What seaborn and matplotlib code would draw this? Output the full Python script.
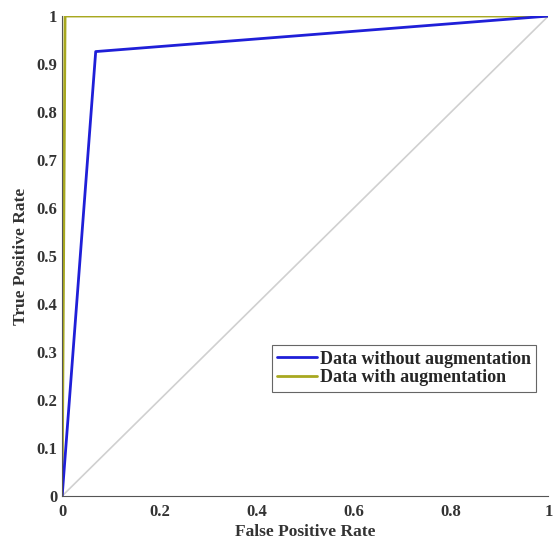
import numpy as np
import pandas as pd
import matplotlib
matplotlib.use("Agg")
import matplotlib.pyplot as plt
import seaborn as sns
from matplotlib.lines import Line2D

# ROC points
fpr_no_aug = [0.0, 0.069, 1.0]
tpr_no_aug = [0.0, 0.926, 1.0]
fpr_aug = [0.0, 0.006, 1.0]
tpr_aug = [0.0, 1.0, 1.0]
chance = [0.0, 1.0]
ticks_x = [0, 0.2, 0.4, 0.6, 0.8, 1]
ticks_y = [0, 0.1, 0.2, 0.3, 0.4, 0.5, 0.6, 0.7, 0.8, 0.9, 1]
xtick_labels = ['0', '0.2', '0.4', '0.6', '0.8', '1']
ytick_labels = ['0', '0.1', '0.2', '0.3', '0.4', '0.5', '0.6', '0.7', '0.8', '0.9', '1']
series_names = ['Data without augmentation', 'Data with augmentation']

BLUE = '#1f1fd8'
OLIVE = '#a8a820'

sns.set_style("white")
plt.rcParams['font.family'] = ['Liberation Serif', 'DejaVu Serif']
plt.rcParams['font.weight'] = 'bold'

fig = plt.figure(figsize=(5.55, 5.46), dpi=100)
ax = fig.add_axes([0.112, 0.0916, 0.876, 0.879])

sns.lineplot(x=chance, y=chance, ax=ax, color='#d0d0d0', linewidth=1.2,
             estimator=None, sort=False)
sns.lineplot(x=fpr_aug, y=tpr_aug, ax=ax, color=OLIVE, linewidth=2,
             estimator=None, sort=False)
sns.lineplot(x=fpr_no_aug, y=tpr_no_aug, ax=ax, color=BLUE, linewidth=2,
             estimator=None, sort=False)

ax.set_xlim(0, 1)
ax.set_ylim(0, 1)
ax.set_xticks(ticks_x)
ax.set_xticklabels(xtick_labels)
ax.set_yticks(ticks_y)
ax.set_yticklabels(ytick_labels)
ax.tick_params(direction='in', length=4, labelsize=12, colors='#333333', width=0.8)
ax.tick_params(axis='x', pad=6)
for t in ax.get_xticklabels() + ax.get_yticklabels():
    t.set_fontweight('bold')
ax.set_xlabel('False Positive Rate', fontsize=12.5, fontweight='bold', color='#333333', labelpad=3)
ax.set_ylabel('True Positive Rate', fontsize=12.5, fontweight='bold', color='#333333', labelpad=5)

for s in ['top', 'right']:
    ax.spines[s].set_visible(False)
for s in ['left', 'bottom']:
    ax.spines[s].set_color('#555555')
    ax.spines[s].set_linewidth(0.8)

handles = [Line2D([], [], color=BLUE, linewidth=2),
           Line2D([], [], color=OLIVE, linewidth=2)]
leg = ax.legend(handles, series_names,
                loc='lower right', bbox_to_anchor=(0.975, 0.217),
                prop={'weight': 'bold', 'size': 13}, fancybox=False,
                frameon=True, handlelength=2.2, handletextpad=0.15,
                borderpad=0.3, labelspacing=0.1, borderaxespad=0)
leg.get_frame().set_edgecolor('#666666')
leg.get_frame().set_linewidth(0.8)
leg.get_frame().set_alpha(1)

fig.savefig('out.png', dpi=100)
